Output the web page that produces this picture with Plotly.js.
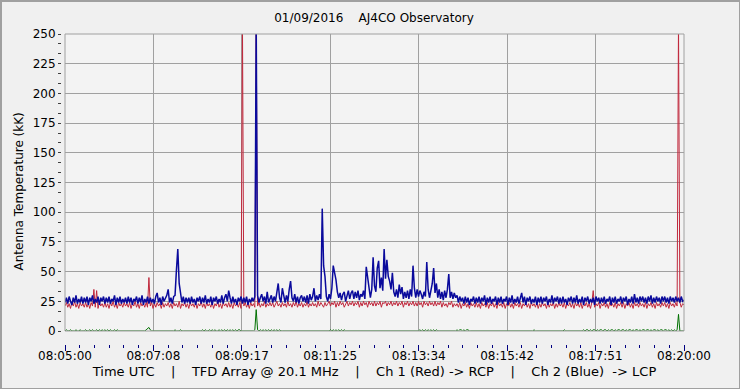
<!DOCTYPE html>
<html><head><meta charset="utf-8">
<script src="https://cdn.plot.ly/plotly-3.0.1.min.js"></script>
<style>
html,body{margin:0;padding:0;background:#F0F0F0;}
#wrap{position:relative;width:740px;height:389px;overflow:hidden;}
#chart{width:740px;height:389px;}
#frame{position:absolute;left:0;top:0;width:740px;height:389px;box-sizing:border-box;border:1px solid #A0A0A0;border-top:2px solid #A0A0A0;border-left:2px solid #A0A0A0;pointer-events:none;}
</style></head><body>
<div id="wrap"><div id="chart"></div><div id="frame"></div></div>
<script>
// Time axis: seconds after 08:05:00 UTC
const tickSeconds = [0, 128.571, 257.143, 385.714, 514.286, 642.857, 771.429, 900];
const tickLabels = ["08:05:00", "08:07:08", "08:09:17", "08:11:25", "08:13:34", "08:15:42", "08:17:51", "08:20:00"];
const sampleStart = 0;   // s
const sampleStep = 2;    // s between samples

// Ch 2 (Blue) -> LCP, kK, one row = 30 s
const ch2Blue = [
24,28,23,29,25, 22,28,24,30,23, 27,24,29,23,28,
24,29,22,28,25, 30,23,27,24,29, 22,28,25,29,23,
28,24,29,23,27, 25,30,22,28,24, 29,23,27,24,28,
23,29,24,28,22, 27,25,29,23,28, 24,30,22,27,24,
29,23,28,24,27, 23,29,32,24,28, 22,29,25,27,30,
35,24,28,23,29, 30,51,69,40,31, 24,29,23,28,24,
28,23,29,24,27, 22,28,25,29,23, 28,24,30,23,27,
24,29,22,28,25, 29,23,27,24,30, 23,28,31,25,34,
28,23,29,24,27, 22,28,25,29,23, 28,24,29,22,27,
24,28,25,29,260, 30,24,28,31,25, 29,23,33,24,28,
30,24,29,25,34, 40,28,24,36,29, 24,30,25,35,42,
28,25,31,24,29, 23,28,30,25,29, 24,30,23,31,26,
29,36,25,30,26, 31,27,103,55,46, 29,25,31,27,36,
55,49,43,33,28, 32,26,31,33,25, 31,34,27,32,34,
27,33,28,34,26, 31,29,34,27,54, 45,33,28,35,62,
38,33,53,59,36, 45,34,69,44,60, 46,42,35,49,33,
29,35,28,39,31, 37,27,33,28,34, 27,35,29,55,36,
28,35,29,34,31, 27,33,29,58,35, 28,34,40,53,32,
40,28,35,27,33, 26,34,28,35,48, 28,33,27,32,28,
30,24,29,25,28, 23,29,24,28,22, 27,25,29,23,28,
24,29,23,28,25, 30,22,28,24,29, 23,27,25,29,22,
28,24,29,23,27, 25,29,22,28,24, 30,23,27,24,29,
23,28,32,24,29, 22,28,25,29,23, 27,24,29,22,28,
24,29,23,28,25, 29,22,27,24,30, 23,28,25,29,23,
28,23,29,24,27, 22,28,25,29,23, 28,24,30,23,27,
24,29,22,28,25, 29,23,27,24,28, 22,29,25,28,23,
28,24,29,23,27, 25,29,22,28,24, 29,23,27,25,29,
23,28,25,29,22, 27,24,29,23,31, 24,28,23,29,25,
29,24,28,23,29, 25,30,23,28,24, 29,25,28,23,29,
25,29,24,28,23, 29,25,28,24,29, 25,28,24,29,25,
26
];

// Ch 1 (Red) -> RCP, kK
const ch1Red = [
21,24,20,23,19, 24,21,25,20,23, 19,24,21,23,20,
24,20,23,19,24, 21,35,20,34,19, 24,21,23,20,24,
20,23,19,24,21, 25,20,23,19,24, 21,23,20,24,21,
23,20,24,19,23, 21,25,20,23,19, 24,21,23,20,24,
20,45,21,24,19, 23,20,24,21,23, 19,24,20,23,21,
24,20,23,19,24, 21,23,20,25,19, 23,21,24,20,23,
19,24,21,23,20, 24,19,23,21,25, 20,23,19,24,21,
23,20,24,19,23, 21,25,20,23,19, 24,21,23,20,24,
20,23,19,24,21, 23,20,24,19,260, 21,24,20,23,19,
24,21,23,20,260, 21,24,20,23,21, 25,20,23,21,24,
21,24,20,23,25, 21,23,20,24,21, 23,20,25,21,23,
20,24,21,25,20, 23,21,24,20,23, 21,25,20,23,21,
24,21,23,20,25, 21,24,22,20,24, 21,23,25,21,24,
22,25,20,24,21, 25,22,24,20,23, 25,21,24,22,25,
21,24,22,25,20, 24,21,25,22,24, 20,25,22,24,21,
25,21,24,22,25, 20,24,23,25,21, 24,22,25,21,24,
22,25,21,24,22, 25,20,24,22,25, 21,24,22,25,21,
24,21,25,22,24, 20,25,22,24,21, 25,22,24,21,25,
21,24,22,25,20, 24,21,23,20,24, 22,25,20,23,21,
23,20,24,19,23, 21,24,20,23,19, 24,21,23,20,24,
20,23,19,24,21, 23,20,24,19,23, 21,24,20,23,19,
24,21,23,20,24, 19,23,21,24,20, 23,19,24,21,23,
20,24,19,23,21, 24,20,23,19,24, 21,23,20,24,19,
23,20,24,21,23, 19,24,20,23,21, 24,19,23,20,24,
21,23,20,24,19, 23,21,24,20,23, 19,24,21,23,20,
24,19,23,21,24, 20,23,19,24,34, 20,23,21,24,19,
23,21,24,20,23, 19,24,21,23,20, 24,19,23,21,24,
20,24,19,23,21, 24,20,23,19,24, 21,23,20,24,21,
23,20,24,19,23, 21,24,20,23,19, 24,21,23,20,24,
21,24,20,23,19, 24,21,23,20,24, 21,260,24,20,23,
22
];

// Green channel, kK
const ch3Green = [
0,1,0,0,1, 0,0,0,1,0, 0,1,0,0,0,
1,0,0,1,0, 1,0,0,1,0, 1,0,1,0,1,
0,1,0,1,0, 0,1,0,1,0, 0,0,0,0,0,
0,0,0,0,0, 0,0,0,0,0, 0,0,0,0,1,
2,3,1,0,0, 0,0,0,0,0, 0,0,0,0,0,
0,0,0,0,0, 1,0,0,0,1, 0,0,0,0,0,
0,0,0,0,0, 0,0,0,0,0, 1,0,1,0,0,
1,0,1,0,1, 0,0,1,0,1, 0,1,0,1,0,
1,0,1,0,1, 0,1,1,0,0, 0,0,0,0,0,
0,0,0,1,18, 1,0,1,0,1, 0,1,0,1,0,
1,0,1,0,1, 0,1,0,0,0, 0,0,0,0,0,
0,0,0,0,0, 0,0,0,0,0, 0,0,0,0,0,
0,0,0,0,0, 0,0,0,0,0, 0,0,0,1,0,
1,0,1,0,1, 0,1,0,1,0, 0,0,0,0,0,
0,0,0,0,0, 0,0,0,0,0, 0,0,0,0,0,
0,0,0,0,0, 0,0,0,0,0, 0,0,0,0,0,
0,0,0,0,0, 0,0,0,0,0, 0,0,0,0,0,
0,0,0,1,0, 1,0,1,0,1, 0,1,0,1,0,
1,0,0,0,0, 0,0,0,0,0, 0,0,0,0,0,
1,0,1,1,0, 1,0,1,1,0, 0,0,0,0,0,
0,0,0,0,0, 0,0,0,0,0, 0,0,0,0,0,
0,0,0,0,0, 0,0,0,0,0, 0,0,0,0,0,
0,0,0,0,0, 0,0,0,0,0, 0,1,0,0,0,
0,0,0,0,0, 0,0,0,0,0, 0,0,0,0,0,
0,0,0,1,0, 0,0,0,0,0, 0,0,0,0,0,
0,0,1,0,1, 1,0,1,0,1, 1,0,1,0,1,
1,0,1,1,0, 1,0,1,1,0, 1,0,1,1,0,
1,1,0,1,0, 1,1,0,1,0, 1,1,0,1,0,
1,1,0,1,1, 0,1,0,1,1, 0,1,0,1,1,
0,1,1,0,1, 0,1,0,1,0, 1,14,0,0,0,
0
];

const titleText = "01/09/2016\u00A0\u00A0\u00A0\u00A0AJ4CO Observatory";
const xTitle = "Time UTC\u00A0\u00A0\u00A0\u00A0|\u00A0\u00A0\u00A0\u00A0TFD Array @ 20.1 MHz\u00A0\u00A0\u00A0\u00A0|\u00A0\u00A0\u00A0\u00A0Ch 1 (Red) -> RCP\u00A0\u00A0\u00A0\u00A0|\u00A0\u00A0\u00A0\u00A0Ch 2 (Blue)\u00A0\u00A0-> LCP";
const yTitle = "Antenna Temperature (kK)";

const mk = (y, color, w) => ({type:'scatter', mode:'lines', x0:sampleStart, dx:sampleStep, y:y,
  line:{color:color, width:w}, hoverinfo:'skip'});

const data = [mk(ch1Red, '#C0283C', 1), mk(ch2Blue, '#0A0A9C', 1.5), mk(ch3Green, '#007000', 1)];

const minorStep = (tickSeconds[1] - tickSeconds[0]) / 6;

const layout = {
  width:740, height:389,
  paper_bgcolor:'#F0F0F0', plot_bgcolor:'#F3F3F3',
  margin:{l:40, r:40, t:34, b:40},
  showlegend:false,
  font:{family:'DejaVu Sans, sans-serif', size:12, color:'#000'},
  title:{text:titleText, xref:'container', x:374/740, xanchor:'center',
         yref:'container', y:1-18/389, yanchor:'middle', font:{size:12, color:'#000'}},
  xaxis:{domain:[25/660, 644/660], anchor:'free', position:5/315, range:[0,900],
         tickmode:'array', tickvals:tickSeconds, ticktext:tickLabels,
         ticks:'outside', ticklen:6, tickwidth:1, tickcolor:'#000080',
         ticklabelstandoff:-5,
         showgrid:true, gridcolor:'#A0A0A0', gridwidth:1, zeroline:false, showline:false,
         tickfont:{size:12},
         minor:{tickmode:'linear', tick0:0, dtick:minorStep, ticks:'outside', ticklen:3,
                tickcolor:'#000080', showgrid:false},
         title:{text:xTitle, standoff:4, font:{size:13}}},
  yaxis:{domain:[18/315, 1], anchor:'free', position:21/660, range:[0,250],
         tickmode:'linear', tick0:0, dtick:25,
         ticks:'outside', ticklen:3, tickwidth:1, tickcolor:'#404040',
         showgrid:true, gridcolor:'#A0A0A0', gridwidth:1, zeroline:false, showline:false,
         tickfont:{size:12},
         minor:{tickmode:'linear', tick0:0, dtick:25/3, ticks:'outside', ticklen:3,
                tickcolor:'#404040', showgrid:false}},
  annotations:[{text:yTitle, textangle:-90, xref:'paper', yref:'paper',
                x:-22/660, y:0.5, xanchor:'center', yanchor:'middle', showarrow:false,
                font:{size:12, color:'#000'}}],
  shapes:[{type:'rect', xref:'x domain', yref:'y domain', x0:0, x1:1, y0:0, y1:1,
           line:{color:'#A0A0A0', width:1}, layer:'above'}]
};

Plotly.newPlot('chart', data, layout, {staticPlot:true, displayModeBar:false});
</script>
</body></html>
